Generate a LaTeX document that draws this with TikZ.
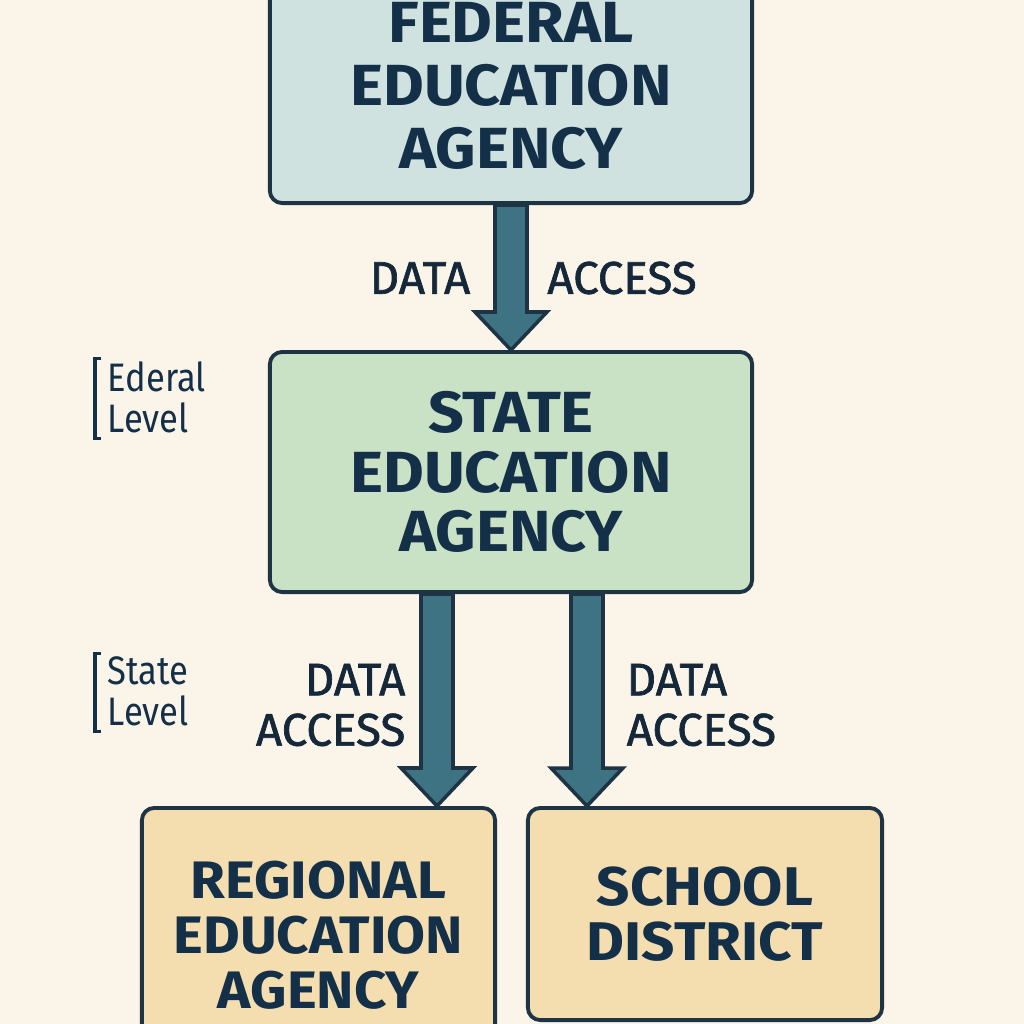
\documentclass[tikz,border=0pt]{standalone}
\usepackage{fontspec}
\setmainfont{Fira Sans}
\usetikzlibrary{calc,positioning}

\definecolor{bgcream}{HTML}{FBF4E8}
\definecolor{fedfill}{HTML}{CFE2E0}
\definecolor{statefill}{HTML}{C9E2C6}
\definecolor{localfill}{HTML}{F4DEB0}
\definecolor{edgeblue}{HTML}{1E3445}
\definecolor{arrowteal}{HTML}{3D7383}
\definecolor{navytext}{HTML}{143049}
\definecolor{lblink}{HTML}{15283A}

\tikzset{
  agency/.style={draw=edgeblue, line width=1.1pt, rounded corners=3.5pt, align=center, text=navytext, inner sep=0pt, font=\fontsize{16.5}{18}\selectfont\bfseries\addfontfeatures{FakeStretch=1.08}},
  arrowbody/.style={fill=arrowteal, draw=edgeblue, line width=1pt, line join=miter},
  flowlbl/.style={text=lblink, inner sep=0pt, font=\fontsize{13}{14.3}\selectfont\addfontfeatures{FakeBold=1.5}},
  levellbl/.style={text=navytext, inner sep=0pt, align=left, font=\fontsize{11.3}{11.7}\selectfont\addfontfeatures{FakeStretch=0.87}},
  lvlbracket/.style={draw=navytext, line width=0.9pt}
}

% block arrow from #1 down to the tip #2
\newcommand{\blockarrow}[2]{%
  \draw[arrowbody] ($(#1)+(-16,0)$) -- ($(#2)+(-16,-38)$) -- ($(#2)+(-36,-38)$) -- (#2) -- ($(#2)+(36,-38)$) -- ($(#2)+(16,-38)$) -- ($(#1)+(16,0)$) -- cycle;}

\begin{document}
\begin{tikzpicture}[x=0.01cm, y=-0.01cm]
	\fill[bgcream] (0,0) rectangle (1024,1024); \clip (0,0) rectangle (1024,1024);

	% agencies
	\node[agency, fill=fedfill, minimum width=4.82cm, minimum height=2.34cm] (fed) at (511,86) {FEDERAL\\EDUCATION\\AGENCY};
	\node[agency, fill=statefill, minimum width=4.82cm, minimum height=2.40cm, font=\fontsize{16.5}{17}\selectfont\bfseries\addfontfeatures{FakeStretch=1.08}] (state) at (511,472) {STATE\\EDUCATION\\AGENCY};
	\node[agency, fill=localfill, minimum width=3.53cm, minimum height=2.54cm, font=\fontsize{15}{15.6}\selectfont\bfseries\addfontfeatures{FakeStretch=1.07}] (reg) at (318.5,935) {REGIONAL\\EDUCATION\\AGENCY};
	\node[agency, fill=localfill, minimum width=3.54cm, minimum height=2.12cm, font=\fontsize{15.5}{15.6}\selectfont\bfseries\addfontfeatures{FakeStretch=1.07}] (sch) at (705,914) {SCHOOL\\DISTRICT};

	% data access arrows
	\blockarrow{fed.south}{state.north}
	\coordinate (s1) at ($(state.south)+(-74,0)$); \coordinate (r1) at (s1 |- reg.north); \blockarrow{s1}{r1}
	\coordinate (s2) at ($(state.south)+(76,0)$); \coordinate (r2) at (s2 |- sch.north); \blockarrow{s2}{r2}

	\node[flowlbl] (d1) at (420,278) {DATA}; \node[flowlbl] (a1) at (622,278) {ACCESS};
	\node[flowlbl, align=right, anchor=east] (da2) at (406,705) {DATA\\ACCESS};
	\node[flowlbl, align=left, anchor=west] (da3) at (626,705) {DATA\\ACCESS};

	% levels
	\node[levellbl, anchor=west] (fedlvl) at (107,397) {Ederal\\Level};
	\draw[lvlbracket] ($(fedlvl.north west)+(-6,-2)$) -| ($(fedlvl.south west)+(-12,5)$) -- ++(6,0);
	\node[levellbl, anchor=west] (statelvl) at (107,691) {State\\Level};
	\draw[lvlbracket] ($(statelvl.north west)+(-6,-2)$) -| ($(statelvl.south west)+(-12,5)$) -- ++(6,0);
\end{tikzpicture}
\end{document}
